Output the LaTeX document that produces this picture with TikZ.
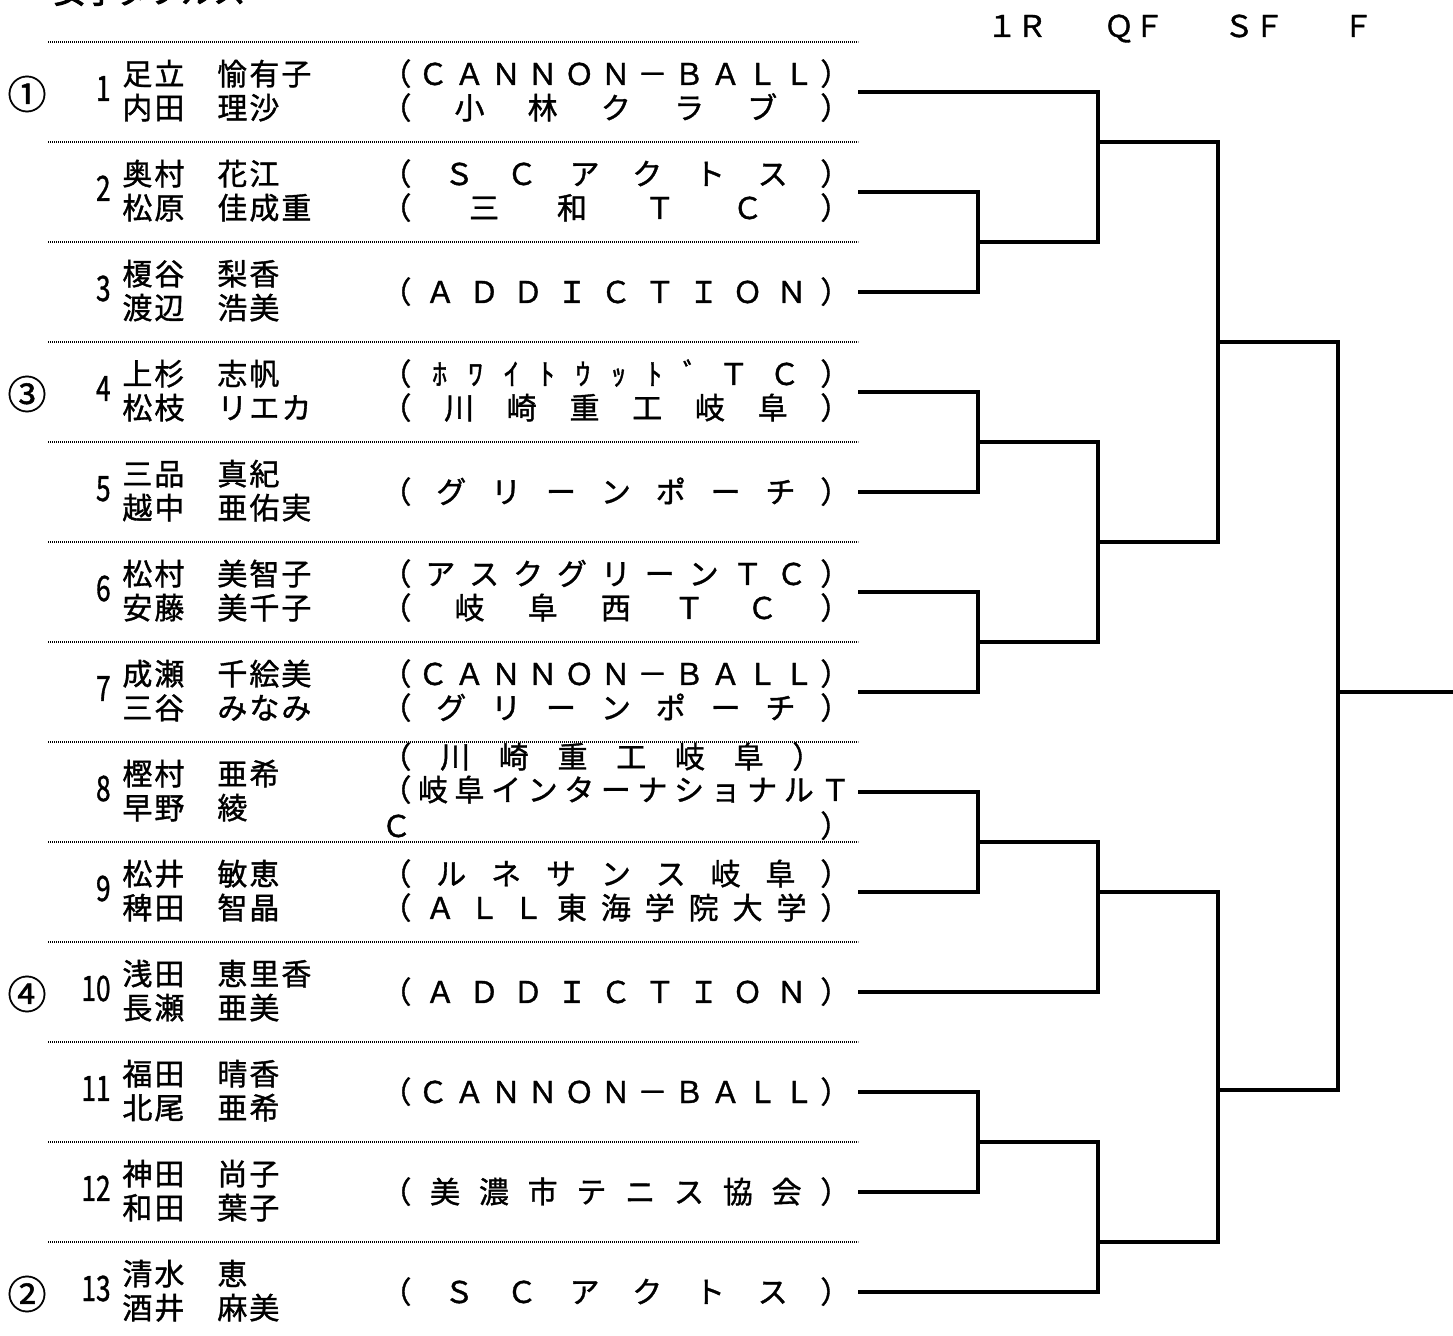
\documentclass[tikz,border=0pt]{standalone}
\usepackage{fontspec}
\usepackage{graphicx}
\setmainfont[FakeBold=1.2]{Noto Sans CJK JP}
\newfontfamily\titlefont[FakeBold=3]{Noto Sans CJK JP}

\newlength\namep \setlength\namep{16pt}
\ExplSyntaxOn
\NewDocumentCommand\distrib{mm}{
  \tl_set:Nn \l_tmpa_tl {#2}
  \tl_set:Nx \l_tmpb_tl { \tl_tail:N \l_tmpa_tl }
  \makebox[#1][s]{ \tl_head:N \l_tmpa_tl \tl_map_inline:Nn \l_tmpb_tl { \hfill ##1 } }
}
\NewDocumentCommand\fixp{m}{
  \tl_map_inline:nn {#1} { \makebox[\namep][c]{##1} }
}
\ExplSyntaxOff

\newcommand\Pair[5]{%
  \pgfmathsetmacro\cy{92+100*(#1-1)}%
  \node[num] (num#1) at (111,\cy+9) {\scalebox{0.75}[1]{#1}};
  \node[txt] (sa#1) at (121,\cy-7) {\fixp{#2}};
  \node[txt] (ga#1) at (216,\cy-7) {\fixp{#3}};
  \node[txt] (sb#1) at (121,\cy+27) {\fixp{#4}};
  \node[txt] (gb#1) at (216,\cy+27) {\fixp{#5}};
}
\newcommand\ClubTwo[3]{%
  \pgfmathsetmacro\cy{92+100*(#1-1)}%
  \node[txt] (ca#1) at (381,\cy-7) {\distrib{234.5pt}{#2}};
  \node[txt] (cb#1) at (381,\cy+27) {\distrib{234.5pt}{#3}};
}
\newcommand\ClubOne[2]{%
  \pgfmathsetmacro\cy{92+100*(#1-1)}%
  \node[txt] (ca#1) at (381,\cy+11) {\distrib{234.5pt}{#2}};
}
\newcommand\Seed[2]{%
  \pgfmathsetmacro\cy{92+100*(#1-1)}%
  \node[seed] (seed#1) at (27,\cy+2) {#2};
}

\begin{document}
\begin{tikzpicture}[x=0.5pt,y=-0.5pt,
  txt/.style={inner sep=0pt, anchor=base west, font=\fontsize{15pt}{18pt}\selectfont},
  num/.style={inner sep=0pt, anchor=base east, font=\fontsize{17.5pt}{20pt}\selectfont},
  hdr/.style={inner sep=0pt, anchor=base, font=\fontsize{15pt}{18pt}\selectfont},
  seed/.style={inner sep=0pt, anchor=center, font=\fontsize{19.5pt}{22pt}\selectfont},
  sepline/.style={line width=1.4pt, dash pattern=on 0.6pt off 0.4pt},
  br/.style={line width=1.7pt},
]
\useasboundingbox (0,0) rectangle (1453,1336);
\clip (0,0) rectangle (1453,1336);

% title (mostly cut off at the top)
\node[inner sep=0pt, anchor=base west, font=\titlefont\fontsize{16pt}{18pt}\selectfont] (title) at (53,3) {女子ダブルス};

% round headers
\node[hdr] (h1) at (1017,37) {１Ｒ};
\node[hdr] (h2) at (1134,37) {ＱＦ};
\node[hdr] (h3) at (1254,37) {ＳＦ};
\node[hdr] (h4) at (1358,37) {Ｆ};

% separators
\foreach \k in {0,...,12} \draw[sepline] (48,42+100*\k) -- (858,42+100*\k);

% seeds
\Seed{1}{①}
\Seed{4}{③}
\Seed{10}{④}
\Seed{13}{②}

% players
\Pair{1}{足立}{愉有子}{内田}{理沙}
\Pair{2}{奥村}{花江}{松原}{佳成重}
\Pair{3}{榎谷}{梨香}{渡辺}{浩美}
\Pair{4}{上杉}{志帆}{松枝}{リエカ}
\Pair{5}{三品}{真紀}{越中}{亜佑実}
\Pair{6}{松村}{美智子}{安藤}{美千子}
\Pair{7}{成瀬}{千絵美}{三谷}{みなみ}
\Pair{8}{樫村}{亜希}{早野}{綾}
\Pair{9}{松井}{敏恵}{稗田}{智晶}
\Pair{10}{浅田}{恵里香}{長瀬}{亜美}
\Pair{11}{福田}{晴香}{北尾}{亜希}
\Pair{12}{神田}{尚子}{和田}{葉子}
\Pair{13}{清水}{恵}{酒井}{麻美}

% clubs
\ClubTwo{1}{（ＣＡＮＮＯＮ－ＢＡＬＬ）}{（小林クラブ）}
\ClubTwo{2}{（ＳＣアクトス）}{（三和ＴＣ）}
\ClubOne{3}{（ＡＤＤＩＣＴＩＯＮ）}
\ClubTwo{4}{（ﾎﾜｲﾄｳｯﾄﾞＴＣ）}{（川崎重工岐阜）}
\ClubOne{5}{（グリーンポーチ）}
\ClubTwo{6}{（アスクグリーンＴＣ）}{（岐阜西ＴＣ）}
\ClubTwo{7}{（ＣＡＮＮＯＮ－ＢＡＬＬ）}{（グリーンポーチ）}
\node[txt] (ca8) at (381,768) {\distrib{220.5pt}{（川崎重工岐阜）}};
\node[txt] (cb8) at (381,801) {\distrib{234.5pt}{（岐阜インターナショナルＴ}};
\node[txt] (cc8) at (381,837) {\distrib{234.5pt}{Ｃ）}};
\ClubTwo{9}{（ルネサンス岐阜）}{（ＡＬＬ東海学院大学）}
\ClubOne{10}{（ＡＤＤＩＣＴＩＯＮ）}
\ClubOne{11}{（ＣＡＮＮＯＮ－ＢＡＬＬ）}
\ClubOne{12}{（美濃市テニス協会）}
\ClubOne{13}{（ＳＣアクトス）}

% bracket coordinates
\foreach \i in {1,...,13} \coordinate (e\i) at (858,92+100*\i-100);
\coordinate (m23) at (978,242);
\coordinate (m45) at (978,442);
\coordinate (m67) at (978,642);
\coordinate (m89) at (978,842);
\coordinate (m1112) at (978,1142);
\coordinate (q1) at (1098,142);
\coordinate (q2) at (1098,542);
\coordinate (q3) at (1098,892);
\coordinate (q4) at (1098,1242);
\coordinate (s1) at (1218,342);
\coordinate (s2) at (1218,1090);
\coordinate (fin) at (1338,692);
\coordinate (fout) at (1453,692);

% first round
\draw[br] (e2) -| (m23) |- (e3);
\draw[br] (e4) -| (m45) |- (e5);
\draw[br] (e6) -| (m67) |- (e7);
\draw[br] (e8) -| (m89) |- (e9);
\draw[br] (e11) -| (m1112) |- (e12);
% quarter finals
\draw[br] (e1) -| (q1) |- (m23);
\draw[br] (m45) -| (q2) |- (m67);
\draw[br] (m89) -| (q3) |- (e10);
\draw[br] (m1112) -| (q4) |- (e13);
% semi finals
\draw[br] (q1) -| (s1) |- (q2);
\draw[br] (q3) -| (s2) |- (q4);
% final
\draw[br] (s1) -| (fin) |- (s2);
\draw[br] (fin) -- (fout);
\end{tikzpicture}
\end{document}
